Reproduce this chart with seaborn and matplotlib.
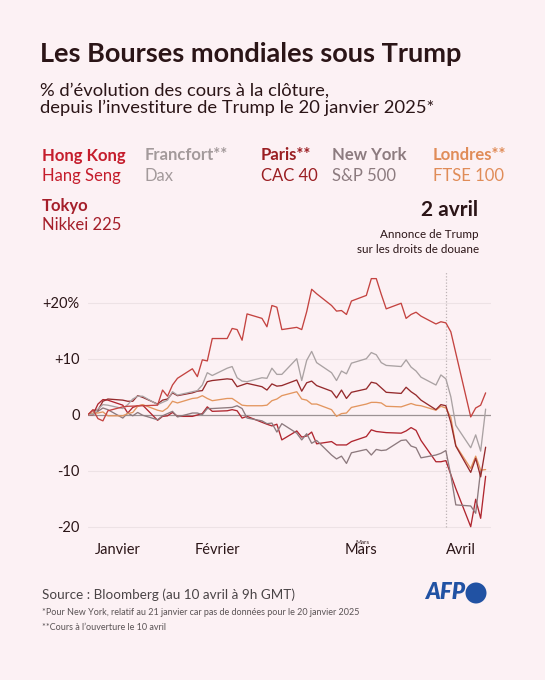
"""
Les Bourses mondiales sous Trump - recreation
% change of closing prices since Jan 20 2025
"""
import pandas as pd
import numpy as np
import matplotlib.pyplot as plt
import seaborn as sns
from matplotlib.patches import Ellipse

sns.set_style("white")
plt.rcParams["font.family"] = ["Lato", "DejaVu Sans"]

BG = "#fcf1f4"
DARK = "#2b1517"

# ---------------------------------------------------------
# DATA (% vs 20 Jan 2025)
# one value per business day, None = market closed
# ---------------------------------------------------------
dates = pd.bdate_range("2025-01-20", "2025-04-10")

hong_kong = [0, 0.9, -0.7, -1.1, 0.7,
             1.4, 1.5, None, None, None,
             1.7, 4.4, 3.3, 5.3, 6.5,
             8.2, 6.8, 9.8, 9.6, 13.6,
             13.6, 15.4, 15.2, 13.3, 18.0,
             17.2, 15.7, 19.5, 19.2, 15.2,
             15.6, 15.2, 18.4, 22.4, 21.6,
             19.5, 18.5, 18.6, 17.9, 20.3,
             21.3, 24.3, 24.3, 21.5, 18.9,
             19.9, 17.2, 17.9, 18.3, 17.6,
             16.2, 16.6, 16.4, 14.8, None,
             -0.4, 1.2, 1.7, 3.9]

francfort = [0, 0.1, 1.0, 1.8, 1.7,
             1.1, 1.8, 2.8, 3.3, 3.3,
             1.8, 2.2, 2.6, 4.1, 3.5,
             4.1, 4.3, 5.3, 7.5, 7.0,
             8.3, 8.6, 6.6, 6.0, 5.9,
             6.6, 6.5, 8.3, 7.2, 7.2,
             10.0, 6.1, 9.7, 11.3, 9.3,
             7.5, 6.1, 7.8, 7.3, 9.2,
             10.0, 11.1, 10.7, 9.3, 8.8,
             8.6, 9.8, 8.5, 7.8, 6.7,
             5.3, 7.1, 6.4, 3.2, -1.9,
             -5.9, -3.6, -6.5, 1.0]

paris = [0, 0.8, 0.8, 2.4, 2.8,
         2.6, 2.4, 2.4, 3.4, 3.1,
         1.9, 2.6, 2.8, 3.9, 3.4,
         3.9, 4.2, 4.3, 5.9, 6.1,
         6.4, 6.3, 5.0, 5.3, 5.6,
         5.0, 4.4, 5.5, 5.1, 5.2,
         6.2, 4.2, 5.7, 6.0, 5.2,
         4.2, 3.0, 4.4, 2.9, 4.0,
         4.6, 5.8, 5.6, 4.8, 4.0,
         3.8, 4.9, 4.1, 3.5, 2.6,
         0.9, 1.8, 1.6, -1.4, -5.6,
         -10.3, -7.8, -11.1, -5.8]

new_york = [None, 0, 0.6, 1.2, 0.9,
            -0.6, 0.3, -0.2, 0.4, -0.1,
            -0.9, -0.2, 0.2, 0.6, -0.4,
            0.3, 0.3, 0.0, 1.1, 1.1,
            None, 1.3, 1.6, 1.1, -0.6,
            -1.1, -1.6, -1.5, -3.1, -1.6,
            -3.3, -4.5, -3.4, -5.1, -4.6,
            -7.2, -7.9, -7.4, -8.7, -6.8,
            -6.2, -7.2, -6.2, -6.4, -6.3,
            -4.6, -4.5, -5.6, -5.9, -7.7,
            -7.2, -6.9, -6.4, -10.8, -16.1,
            -16.3, -17.6, -9.9, None]

londres = [0, 0.3, 0.3, 0.5, -0.2,
           -0.2, 0.2, 0.4, 1.5, 1.8,
           0.8, 0.6, 1.2, 2.4, 2.1,
           2.9, 3.0, 3.4, 2.9, 2.5,
           2.9, 2.9, 2.3, 1.7, 1.6,
           1.6, 1.7, 2.5, 2.8, 3.4,
           4.1, 2.8, 2.6, 1.9, 1.9,
           0.9, -0.3, 0.2, 0.3, 1.3,
           1.9, 2.2, 2.2, 2.1, 1.5,
           1.4, 1.7, 2.0, 1.7, 1.6,
           0.8, 1.5, 1.2, -0.5, -5.5,
           -9.6, -7.4, -9.9, -9.8]

tokyo = [0, 0.0, 1.9, 2.7, 2.6,
         1.7, 0.3, 1.3, 1.6, 1.7,
         -1.0, -0.3, -0.2, 0.4, -0.3,
         -0.3, None, 0.2, 1.4, 0.6,
         0.7, 0.9, 0.7, -0.6, -0.3,
         None, -1.7, -2.0, -1.7, -4.5,
         -2.9, -4.0, -3.8, -3.1, -5.2,
         -4.8, -5.4, -5.4, -5.4, -4.8,
         -3.9, -2.7, -3.0, None, -3.2,
         -3.3, -2.9, -2.3, -2.8, -4.6,
         -8.4, -8.4, -8.2, -10.7, -13.2,
         -20.0, -15.1, -18.5, -11.0]

series = {
    "Tokyo": tokyo,
    "New York": new_york,
    "Londres": londres,
    "Paris": paris,
    "Francfort": francfort,
    "Hong Kong": hong_kong,
}

line_colors = {
    "Hong Kong": "#c44340",
    "Francfort": "#aaa2a3",
    "Paris": "#952a2c",
    "New York": "#8d7a7e",
    "Londres": "#e3965f",
    "Tokyo": "#b0262f",
}

# legend blocks: (market, index, colour)
legend_markets = ["Hong Kong", "Francfort**", "Paris**", "New York", "Londres**", "Tokyo"]
legend_indices = ["Hang Seng", "Dax", "CAC 40", "S&P 500", "FTSE 100", "Nikkei 225"]
legend_colors = ["#c51d2c", "#a39a9b", "#9a1e22", "#8c7b7f", "#e08c58", "#a51f2a"]

y_ticks = [20, 10, 0, -10, -20]
y_labels = ["+20%", "+10", "0", "-10", "-20"]
month_dates = pd.to_datetime(["2025-01-26", "2025-02-15", "2025-03-16", "2025-04-05"])
month_labels = ["Janvier", "Février", "Mars", "Avril"]
announce_date = pd.Timestamp("2025-04-02")

# long format for seaborn
frames = []
for name, vals in series.items():
    frames.append(pd.DataFrame({"date": dates, "value": vals, "marche": name}))
df = pd.concat(frames, ignore_index=True).dropna()
df["value"] = df["value"].astype(float)

# ---------------------------------------------------------
# FIGURE
# ---------------------------------------------------------
fig = plt.figure(figsize=(5.45, 6.8), dpi=100)
fig.patch.set_facecolor(BG)

W, H = 545, 680
ax = fig.add_axes([88 / W, 1 - 537.9 / H, 402.6 / W, 268.8 / H])
ax.set_facecolor(BG)

# grid
for t in y_ticks:
    if t == 0:
        continue
    ax.axhline(t, color="#ede2e5", lw=0.8, zorder=0)
ax.axhline(0, color="#9c9294", lw=0.9, zorder=1)
ax.vlines(announce_date, -20, 25.6, colors="#bdb3b5", lw=0.9, linestyles=(0, (1, 1.5)), zorder=1)

sns.lineplot(data=df, x="date", y="value", hue="marche", hue_order=list(series.keys()),
             palette=line_colors, linewidth=0.95, legend=False, ax=ax, zorder=3)

ax.set_xlim(pd.Timestamp("2025-01-20"), pd.Timestamp("2025-04-11"))
ax.set_ylim(-22, 26)
ax.set_yticks(y_ticks)
ax.set_yticklabels(y_labels)
ax.set_xticks(month_dates)
ax.set_xticklabels(month_labels)
ax.tick_params(axis="y", length=0, pad=6, labelsize=10.5, labelcolor=DARK)
ax.tick_params(axis="x", length=0, pad=4, labelsize=10.5, labelcolor=DARK)
ax.set_xlabel("")
ax.set_ylabel("")
for s in ax.spines.values():
    s.set_visible(False)

# tiny stray "Mars" above the Mars label (as in the original)
fig.text(362 / W, 1 - 543 / H, "Mars", fontsize=4.5, color=DARK, ha="center", va="center")

# ---------------------------------------------------------
# TEXTS
# ---------------------------------------------------------
def fy(y):
    return 1 - y / H

fig.text(40 / W, fy(62.5), "Les Bourses mondiales sous Trump", fontsize=19.5,
         fontweight="bold", color=DARK, va="baseline")
fig.text(40 / W, fy(95.5), "% d\u2019évolution des cours à la clôture,", fontsize=13.2,
         color=DARK, va="baseline")
fig.text(40 / W, fy(112.5), "depuis l\u2019investiture de Trump le 20 janvier 2025*", fontsize=13.2,
         color=DARK, va="baseline")

legend_x = [41.5, 145, 261, 332, 433, 41.5]
legend_y = [(160.5, 181.5)] * 5 + [(211.5, 230)]
for mkt, idx, col, lx, (y1, y2) in zip(legend_markets, legend_indices, legend_colors, legend_x, legend_y):
    fig.text(lx / W, fy(y1), mkt, fontsize=12, fontweight="bold", color=col, va="baseline")
    fig.text(lx / W, fy(y2), idx, fontsize=12, color=col, va="baseline")

fig.text(478 / W, fy(216), "2 avril", fontsize=15, fontweight="bold", color=DARK,
         ha="right", va="baseline")
fig.text(479 / W, fy(238.3), "Annonce de Trump", fontsize=8.4, color=DARK, ha="right", va="baseline")
fig.text(479 / W, fy(252.7), "sur les droits de douane", fontsize=8.4, color=DARK,
         ha="right", va="baseline")

fig.text(42 / W, fy(599.3), "Source : Bloomberg (au 10 avril à 9h GMT)", fontsize=9.7,
         color="#4a4446", va="baseline")
fig.text(42 / W, fy(615), "*Pour New York, relatif au 21 janvier car pas de données pour le 20 janvier 2025",
         fontsize=6.45, color="#5a5355", va="baseline")
fig.text(42 / W, fy(630), "**Cours à l\u2019ouverture le 10 avril", fontsize=6.45,
         color="#5a5355", va="baseline")

# AFP logo
AFP_BLUE = "#2152a3"
fig.text(465 / W, fy(599), "AFP", fontsize=16, fontweight="heavy", fontstyle="italic",
         color=AFP_BLUE, ha="right", va="baseline")
fig.patches.append(Ellipse((476 / W, fy(593)), 21 / W, 21 / H, transform=fig.transFigure,
                           facecolor=AFP_BLUE, edgecolor="none"))

fig.savefig("out.png", dpi=100, facecolor=BG)
